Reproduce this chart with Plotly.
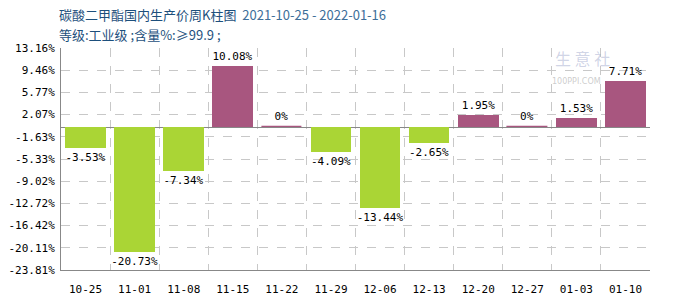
import plotly.graph_objects as go

categories = ["10-25", "11-01", "11-08", "11-15", "11-22", "11-29", "12-06", "12-13", "12-20", "12-27", "01-03", "01-10"]
values = [-3.53, -20.73, -7.34, 10.08, 0, -4.09, -13.44, -2.65, 1.95, 0, 1.53, 7.71]
labels = ["-3.53%", "-20.73%", "-7.34%", "10.08%", "0%", "-4.09%", "-13.44%", "-2.65%", "1.95%", "0%", "1.53%", "7.71%"]
ytick_vals = [13.16, 9.46, 5.77, 2.07, -1.63, -5.33, -9.02, -12.72, -16.42, -20.11, -23.81]
ytick_text = ["13.16%", "9.46%", "5.77%", "2.07%", "-1.63%", "-5.33%", "-9.02%", "-12.72%", "-16.42%", "-20.11%", "-23.81%"]

GREEN = "#AAD535"
PURPLE = "#A8567F"

xs = list(range(len(categories)))
colors = [GREEN if v < 0 else PURPLE for v in values]

fig = go.Figure()
fig.add_trace(go.Bar(
    x=xs, y=values,
    marker=dict(color=colors, line=dict(color=colors, width=[0 if v != 0 else 1.2 for v in values])),
    width=0.83,
    text=labels, textposition="outside", cliponaxis=False, constraintext="none",
    textfont=dict(family="DejaVu Sans Mono", size=11, color="#000000"),
    hoverinfo="skip",
))

fig.update_layout(
    width=700, height=300,
    margin=dict(l=61, r=50, t=48, b=30, autoexpand=False),
    paper_bgcolor="white", plot_bgcolor="white",
    showlegend=False,
    bargap=0,
    font=dict(family="DejaVu Sans Mono", size=11, color="#000000"),
    xaxis=dict(
        range=[-0.5, 11.5], tickvals=xs, ticktext=categories,
        showgrid=False, zeroline=False,
        showline=True, linecolor="#888888", linewidth=1,
        ticks="", ticklen=0, ticklabelstandoff=9,
        tickfont=dict(family="DejaVu Sans Mono", size=11, color="#000000"),
        minor=dict(tickvals=[i + 0.5 for i in xs], showgrid=True, gridcolor="#C8C8C8", griddash="dash", gridwidth=1),
        fixedrange=True,
    ),
    yaxis=dict(
        range=[-23.81, 13.16], tickvals=ytick_vals, ticktext=ytick_text,
        showgrid=True, gridcolor="#C8C8C8", griddash="dash", gridwidth=1,
        zeroline=True, zerolinecolor="#888888", zerolinewidth=1,
        showline=True, linecolor="#888888", linewidth=1,
        ticks="", ticklen=0, ticklabelstandoff=3,
        tickfont=dict(family="DejaVu Sans Mono", size=11, color="#000000"),
        fixedrange=True,
    ),
    annotations=[
        dict(xref="paper", yref="paper", x=-0.006, y=1.0, yanchor="bottom", xanchor="left", yshift=22,
             text="<span style='color:#1D4F7C'>碳酸二甲酯国内生产价周K柱图</span>  <span style='color:#3D6E99'>2021-10-25 - 2022-01-16</span>",
             showarrow=False, font=dict(family="Noto Sans CJK SC", size=13)),
        dict(xref="paper", yref="paper", x=-0.006, y=1.0, yanchor="bottom", xanchor="left", yshift=2,
             text="<span style='color:#1D4F7C'>等级:工业级 ;含量%:≥99.9 ;</span>",
             showarrow=False, font=dict(family="Noto Sans CJK SC", size=13)),
        dict(xref="paper", yref="paper", x=0.885, y=0.955, xanchor="center", yanchor="middle",
             text="生 意 社", showarrow=False,
             font=dict(family="Noto Sans CJK SC", size=16, color="rgba(150,160,200,0.45)")),
        dict(xref="paper", yref="paper", x=0.875, y=0.85, xanchor="center", yanchor="middle",
             text="100PPI.COM", showarrow=False,
             font=dict(family="DejaVu Sans", size=8, color="rgba(170,170,170,0.6)")),
    ],
)

fig.write_html("out.html")
